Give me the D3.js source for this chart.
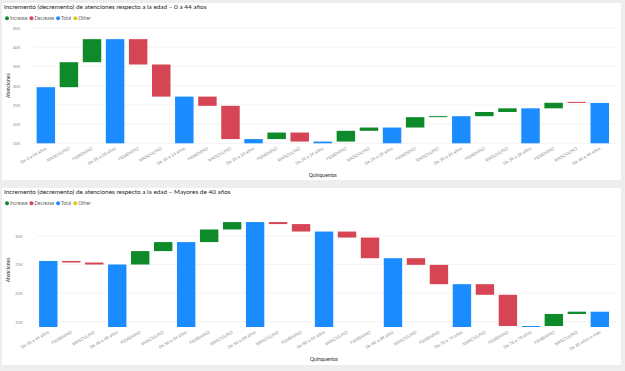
<!DOCTYPE html>
<html>
<head>
<meta charset="utf-8">
<script src="https://cdn.jsdelivr.net/npm/d3@7/dist/d3.min.js"></script>
<style>
  body { margin: 0; background: #eeeeee; }
  svg { display: block; font-family: "Segoe UI", Lato, "Open Sans", sans-serif; }
</style>
</head>
<body>
<svg id="chart" width="625" height="371"></svg>
<script>
const legendNames = ["Increase", "Decrease", "Total", "Other"];
const legendColors = ["#0e8a2b", "#d64554", "#1a8cff", "#e6c619"];

// chart 1 : totals for "De .." rows, change for the sex rows
const cats1 = ["De 0 a 04 años", "MASCULINO", "FEMENINO", "De 05 a 09 años", "FEMENINO", "MASCULINO",
  "De 10 a 14 años", "FEMENINO", "MASCULINO", "De 15 a 19 años", "FEMENINO", "MASCULINO",
  "De 20 a 24 años", "FEMENINO", "MASCULINO", "De 25 a 29 años", "FEMENINO", "MASCULINO",
  "De 30 a 34 años", "FEMENINO", "MASCULINO", "De 35 a 39 años", "FEMENINO", "MASCULINO", "De 40 a 44 años"];
const vals1 = [29600, 6500, 6000, 42100, -6600, -8350, 27150, -2400, -8650, 16100, 1700, -2350,
  15450, 2800, 850, 19100, 2700, 250, 22050, 1100, 950, 24100, 1450, -50, 25500];
const ticks1 = [15000, 20000, 25000, 30000, 35000, 40000, 45000];

// chart 2
const cats2 = ["De 40 a 44 años", "FEMENINO", "MASCULINO", "De 45 a 49 años", "FEMENINO", "MASCULINO",
  "De 50 a 54 años", "FEMENINO", "MASCULINO", "De 55 a 59 años", "MASCULINO", "FEMENINO",
  "De 60 a 64 años", "MASCULINO", "FEMENINO", "De 65 a 69 años", "MASCULINO", "FEMENINO",
  "De 70 a 74 años", "MASCULINO", "FEMENINO", "De 75 a 79 años", "FEMENINO", "MASCULINO", "De 80 años o más"];
const vals2 = [25600, -270, -350, 24980, 2340, 1570, 28890, 2200, 1290, 32380, -350, -1300,
  30730, -1050, -3600, 26080, -1160, -3370, 21550, -1850, -5450, 14250, 2100, 400, 16750];
const ticks2 = [15000, 20000, 25000, 30000];

const svg = d3.select("#chart");

const panels = [
  { title: "Incremento (decremento) de atenciones respecto a la edad – 0 a 44 años",
    cats: cats1, vals: vals1, ticks: ticks1, domain: [15000, 45000],
    box: { x: 2, y: 3, w: 619, h: 177 },
    plot: { left: 34.3, right: 611.3, top: 28, bottom: 143.3 } },
  { title: "Incremento (decremento) de atenciones respecto a la edad – Mayores de 40 años",
    cats: cats2, vals: vals2, ticks: ticks2, domain: [14080, 34000],
    box: { x: 2, y: 188, w: 619, h: 177 },
    plot: { left: 36.8, right: 611.3, top: 212.8, bottom: 327 } }
];

panels.forEach(drawPanel);

function waterfall(cats, vals) {
  let level = 0;
  return cats.map((c, i) => {
    if (c.startsWith("De ")) {
      level = vals[i];
      return { i, name: c, lo: 0, hi: vals[i], kind: 2 };
    }
    const s = level;
    level += vals[i];
    return { i, name: c, lo: Math.min(s, level), hi: Math.max(s, level), kind: vals[i] >= 0 ? 0 : 1 };
  });
}

function drawPanel(p) {
  const g = svg.append("g");
  const b = p.box;

  g.append("rect")
    .attr("x", b.x).attr("y", b.y)
    .attr("width", b.w).attr("height", b.h)
    .attr("fill", "#fff");

  g.append("text")
    .attr("x", b.x + 2).attr("y", b.y + 6)
    .attr("font-size", 6.4)
    .attr("fill", "#252423")
    .text(p.title);

  // legend
  const leg = g.append("g").attr("transform", `translate(${b.x + 5}, ${b.y + 15.3})`);
  let lx = 0;
  legendNames.forEach((n, k) => {
    leg.append("circle").attr("cx", lx).attr("cy", 0).attr("r", 2).attr("fill", legendColors[k]);
    const t = leg.append("text")
      .attr("x", lx + 3).attr("y", 1.7)
      .attr("font-size", 4.8)
      .attr("fill", "#605e5c")
      .text(n);
    lx += 3 + t.node().getComputedTextLength() + 4;
  });

  const x = d3.scaleBand()
    .domain(p.cats.map((d, i) => i))
    .range([p.plot.left, p.plot.right])
    .paddingInner(0.2)
    .paddingOuter(0.1);

  const y = d3.scaleLinear()
    .domain(p.domain)
    .range([p.plot.bottom, p.plot.top])
    .clamp(true);

  // grid
  g.append("g")
    .selectAll("line")
    .data(p.ticks)
    .join("line")
    .attr("x1", p.plot.left).attr("x2", p.plot.right + 5)
    .attr("y1", d => y(d)).attr("y2", d => y(d))
    .attr("stroke", "#f0f0f0")
    .attr("stroke-width", 0.8);

  const yAxis = g.append("g")
    .attr("transform", `translate(${p.plot.left - 11}, 0)`)
    .call(d3.axisLeft(y).tickValues(p.ticks).tickFormat(d => d / 1000 + "K").tickSize(0))
    .call(a => a.select(".domain").remove());
  yAxis.selectAll("text")
    .attr("font-size", 4.3)
    .attr("font-family", null)
    .attr("fill", "#8a8886");

  const steps = waterfall(p.cats, p.vals);

  g.append("g")
    .selectAll("rect")
    .data(steps)
    .join("rect")
    .attr("x", d => x(d.i))
    .attr("width", x.bandwidth())
    .attr("y", d => {
      const h = y(d.lo) - y(d.hi);
      return h < 1 ? y(d.lo) - 1 : y(d.hi);
    })
    .attr("height", d => Math.max(1, y(d.lo) - y(d.hi)))
    .attr("fill", d => legendColors[d.kind]);

  const xAxis = g.append("g")
    .attr("transform", `translate(0, ${p.plot.bottom})`)
    .call(d3.axisBottom(x).tickFormat(i => p.cats[i]).tickSize(0))
    .call(a => a.select(".domain").remove());
  xAxis.selectAll("text")
    .attr("font-size", 4.3)
    .attr("font-family", null)
    .attr("fill", "#8a8886")
    .attr("text-anchor", "end")
    .attr("dy", null)
    .attr("y", 0)
    .attr("transform", "translate(1, 6) rotate(-30)");

  g.append("text")
    .attr("x", (p.plot.left + p.plot.right) / 2)
    .attr("y", p.plot.bottom + 34)
    .attr("text-anchor", "middle")
    .attr("font-size", 5)
    .attr("fill", "#252423")
    .text("Quinquenios");

  g.append("text")
    .attr("transform", `translate(${b.x + 8}, ${(p.plot.top + p.plot.bottom) / 2}) rotate(-90)`)
    .attr("text-anchor", "middle")
    .attr("font-size", 5)
    .attr("fill", "#252423")
    .text("Atenciones");
}
</script>
</body>
</html>
